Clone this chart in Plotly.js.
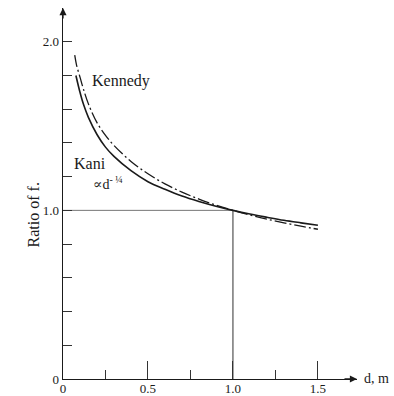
<!DOCTYPE html>
<html>
<head>
<meta charset="utf-8">
<script src="https://cdn.plot.ly/plotly-3.0.1.min.js"></script>
<style>
  html, body { margin: 0; padding: 0; background: #fff; }
  #chart { width: 394px; height: 396px; }
</style>
</head>
<body>
<div id="chart"></div>
<script>
// Ratio of f. against depth d (m), normalised to 1.0 at d = 1 m
const kaniD = [0.076, 0.10, 0.12, 0.15, 0.20, 0.25, 0.30, 0.40, 0.50, 0.60, 0.70, 0.80, 0.90, 1.00, 1.10, 1.20, 1.30, 1.40, 1.50];
const kaniR = [1.80, 1.70, 1.63, 1.55, 1.45, 1.375, 1.32, 1.235, 1.17, 1.125, 1.085, 1.053, 1.025, 1.00, 0.978, 0.959, 0.941, 0.926, 0.912];

const kennedyD = [0.069, 0.08, 0.10, 0.12, 0.15, 0.20, 0.25, 0.30, 0.40, 0.50, 0.60, 0.70, 0.80, 0.90, 1.00, 1.10, 1.20, 1.30, 1.40, 1.50];
const kennedyR = [1.92, 1.86, 1.79, 1.72, 1.63, 1.52, 1.445, 1.385, 1.29, 1.217, 1.157, 1.108, 1.067, 1.031, 1.00, 0.973, 0.948, 0.926, 0.906, 0.888];

// guide lines through the reference point (d = 1.0, ratio = 1.0)
const guideD = [0, 1.0, 1.0];
const guideR = [1.0, 1.0, 0];

const xTickVals = [0, 0.5, 1.0, 1.5];
const xTickText = ['0', '0.5', '1.0', '1.5'];
const xMinorVals = [0.25, 0.75, 1.25];
const yTickVals = [0, 0.2, 0.4, 0.6, 0.8, 1.0, 1.2, 1.4, 1.6, 1.8, 2.0];
const yTickText = ['0', '', '', '', '', '1.0', '', '', '', '', '2.0'];

const serif = 'Liberation Serif, DejaVu Serif, serif';
const ink = '#1a1a1a';

const traces = [
  {
    x: guideD.slice(0, 2), y: guideR.slice(0, 2), mode: 'lines', type: 'scatter',
    line: { color: '#777', width: 1 }, hoverinfo: 'skip'
  },
  {
    x: guideD.slice(1), y: guideR.slice(1), mode: 'lines', type: 'scatter',
    line: { color: '#444', width: 1.1 }, hoverinfo: 'skip'
  },
  {
    x: kaniD, y: kaniR, mode: 'lines', type: 'scatter', name: 'Kani',
    line: { color: ink, width: 1.6, shape: 'spline', smoothing: 1 }
  },
  {
    x: kennedyD, y: kennedyR, mode: 'lines', type: 'scatter', name: 'Kennedy',
    line: { color: ink, width: 1.3, dash: '12px,3px,2px,3px', shape: 'spline', smoothing: 1 }
  }
];

const plotW = 394 - 63 - 37;

const layout = {
  width: 394, height: 396,
  margin: { l: 63, r: 37, t: 8, b: 17 },
  paper_bgcolor: '#fff', plot_bgcolor: '#fff',
  showlegend: false,
  font: { family: serif, size: 13, color: ink },
  xaxis: {
    range: [0, 1.73], showgrid: false, zeroline: false,
    showline: true, linecolor: ink, linewidth: 1.3,
    tickmode: 'array', tickvals: xTickVals, ticktext: xTickText,
    ticks: 'inside', ticklen: 18, tickwidth: 1, tickcolor: '#333',
    ticklabelstandoff: -3,
    minor: { tickmode: 'array', tickvals: xMinorVals, ticks: 'inside', ticklen: 9, tickwidth: 1, tickcolor: '#333' },
    tickfont: { family: serif, size: 13, color: ink }
  },
  yaxis: {
    range: [0, 2.2], showgrid: false, zeroline: false,
    showline: true, linecolor: ink, linewidth: 1.3,
    tickmode: 'array', tickvals: yTickVals, ticktext: yTickText,
    ticks: 'inside', ticklen: 9, tickwidth: 1, tickcolor: '#333',
    tickfont: { family: serif, size: 13, color: ink }
  },
  annotations: [
    // axis arrowheads
    { x: 0, y: 2.2, xref: 'x', yref: 'y', ax: 0, ay: 12, text: '', showarrow: true,
      arrowhead: 2, arrowsize: 1.1, arrowwidth: 1.3, arrowcolor: ink },
    { x: 1.73, y: 0, xref: 'x', yref: 'y', ax: -14, ay: 0, text: '', showarrow: true,
      arrowhead: 2, arrowsize: 1.1, arrowwidth: 1.3, arrowcolor: ink },
    { x: 1.73, y: 0, xref: 'x', yref: 'y', xanchor: 'left', yanchor: 'middle', xshift: 5, yshift: 1,
      text: 'd, m', showarrow: false, font: { family: serif, size: 14, color: ink } },
    { x: -30 / plotW, y: 0.97, xref: 'paper', yref: 'y', xanchor: 'center', yanchor: 'middle',
      text: 'Ratio of f.', textangle: -90, showarrow: false,
      font: { family: serif, size: 16, color: ink } },
    { x: 0.16, y: 1.77, xref: 'x', yref: 'y', xanchor: 'left', yanchor: 'middle',
      text: 'Kennedy', showarrow: false, font: { family: serif, size: 16, color: ink } },
    { x: 0.055, y: 1.28, xref: 'x', yref: 'y', xanchor: 'left', yanchor: 'middle',
      text: 'Kani', showarrow: false, font: { family: serif, size: 16, color: ink } },
    { x: 0.165, y: 1.165, xref: 'x', yref: 'y', xanchor: 'left', yanchor: 'middle',
      text: '∝d<sup>- ¼</sup>', showarrow: false, font: { family: serif, size: 14, color: ink } }
  ]
};

Plotly.newPlot('chart', traces, layout, { staticPlot: true, displayModeBar: false });
</script>
</body>
</html>
